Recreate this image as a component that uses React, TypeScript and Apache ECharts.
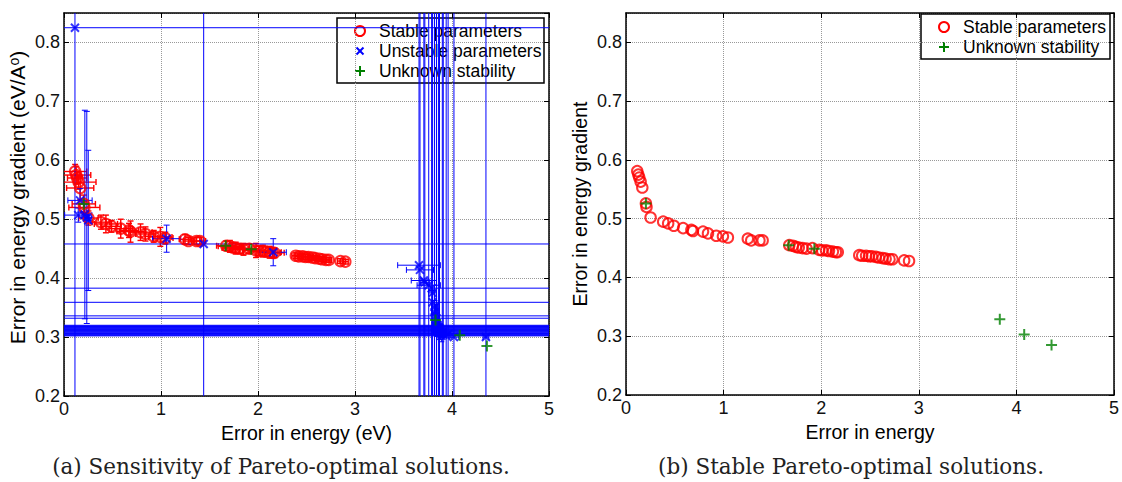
import { useEffect, useRef } from 'react';
import * as echarts from 'echarts';

// Pareto-optimal parameter sets: error in energy vs error in energy gradient
const stableX = [0.115, 0.126, 0.136, 0.15, 0.167, 0.204, 0.21, 0.252, 0.381, 0.432, 0.49, 0.585, 0.67, 0.686, 0.789, 0.84, 0.925, 0.993, 1.044, 1.248, 1.283, 1.367, 1.4, 1.673, 1.71, 1.74, 1.77, 1.81, 1.85, 1.91, 1.98, 2.01, 2.05, 2.08, 2.12, 2.15, 2.17, 2.39, 2.42, 2.46, 2.49, 2.52, 2.56, 2.59, 2.63, 2.66, 2.7, 2.73, 2.85, 2.9];
const stableY = [0.581, 0.575, 0.57, 0.563, 0.553, 0.526, 0.52, 0.502, 0.495, 0.492, 0.488, 0.484, 0.481, 0.479, 0.478, 0.475, 0.471, 0.47, 0.468, 0.466, 0.463, 0.463, 0.463, 0.455, 0.454, 0.452, 0.451, 0.45, 0.449, 0.45, 0.447, 0.446, 0.446, 0.445, 0.444, 0.443, 0.443, 0.438, 0.437, 0.437, 0.436, 0.436, 0.435, 0.434, 0.433, 0.432, 0.431, 0.431, 0.429, 0.428];
const stableXErr = [0.12, 0.15, 0.1, 0.18, 0.14, 0.12, 0.16, 0.1, 0.09, 0.12, 0.1, 0.12, 0.1, 0.14, 0.12, 0.1, 0.09, 0.12, 0.08, 0.06, 0.05, 0.05, 0.06, 0.1, 0.12, 0.1, 0.14, 0.1, 0.12, 0.1, 0.14, 0.1, 0.12, 0.1, 0.12, 0.08, 0.1, 0.04, 0.04, 0.05, 0.04, 0.05, 0.04, 0.04, 0.04, 0.04, 0.04, 0.03, 0.03, 0.03];
const stableYErr = [0.012, 0.015, 0.01, 0.012, 0.02, 0.015, 0.01, 0.012, 0.012, 0.015, 0.01, 0.016, 0.012, 0.018, 0.014, 0.012, 0.01, 0.016, 0.01, 0.008, 0.006, 0.006, 0.006, 0.008, 0.01, 0.008, 0.01, 0.008, 0.01, 0.008, 0.012, 0.008, 0.01, 0.008, 0.01, 0.008, 0.008, 0.005, 0.004, 0.005, 0.004, 0.005, 0.004, 0.004, 0.004, 0.004, 0.004, 0.004, 0.004, 0.004];

const unstableX = [0.113, 0.165, 0.147, 0.215, 0.235, 0.25, 1.058, 1.44, 2.157, 3.66, 3.67, 3.71, 3.72, 3.76, 3.79, 3.8, 3.8, 3.82, 3.82, 3.83, 3.84, 3.85, 3.86, 3.84, 3.85, 3.87, 3.88, 3.91, 3.94, 3.96, 4.02, 4.35, 3.83, 3.84, 3.86, 3.87, 3.85, 3.86, 3.88, 3.9, 3.89];
const unstableY = [0.825, 0.532, 0.507, 0.508, 0.503, 0.498, 0.467, 0.458, 0.444, 0.422, 0.414, 0.396, 0.393, 0.388, 0.383, 0.375, 0.359, 0.351, 0.342, 0.336, 0.332, 0.32, 0.317, 0.314, 0.311, 0.309, 0.306, 0.304, 0.303, 0.305, 0.3, 0.3, 0.319, 0.318, 0.316, 0.315, 0.313, 0.312, 0.31, 0.308, 0.302];
const unstableXErr = [9, 0.125, 0.14, 0.03, 0.03, 0.03, 0.145, 9, 0.135, 0.22, 0.14, 0.13, 0.05, 0.12, 9, 0.04, 9, 0.03, 0.03, 9, 9, 9, 9, 9, 9, 9, 9, 9, 9, 9, 0.05, 0.03, 9, 9, 9, 9, 9, 9, 9, 9, 9];
const unstableYErr = [9, 0.02, 0.012, 0.177, 0.18, 0.119, 0.023, 9, 0.023, 9, 9, 9, 9, 9, 9, 9, 0.02, 9, 0.02, 0.02, 9, 0.01, 9, 0.01, 0.01, 9, 0.01, 9, 9, 9, 9, 9, 0.01, 0.01, 0.01, 9, 0.01, 0.01, 0.01, 9, 0.01];

const unknownX = [0.204, 1.667, 1.93, 3.83, 4.08, 4.36];
const unknownY = [0.526, 0.455, 0.449, 0.329, 0.303, 0.285];

const xRange = [0, 5];
const yRange = [0.2, 0.85];
const legendLabels = ['Stable parameters', 'Unstable parameters', 'Unknown stability'];
const xTitles = ['Error in energy (eV)', 'Error in energy'];
const yTitles = ['{n|Error in energy gradient (eV/A}{s|o}{n|)}', 'Error in energy gradient'];
const captions = ['(a) Sensitivity of Pareto-optimal solutions.', '(b) Stable Pareto-optimal solutions.'];

const SANS = "'Liberation Sans', Arial, Helvetica, sans-serif";
const SERIF = "'DejaVu Serif', 'Liberation Serif', serif";
const RED = '#ff0000';
const BLUE = '#0000ff';
const GREEN = '#008000';
const TICK_SIZE = 18;

const CROSS = 'path://M0,0L10,10M10,0L0,10';
const PLUS = 'path://M5,0L5,10M0,5L10,5';

function errorBars(color: string, lw: number) {
  return (params: any, api: any) => {
    const cs = params.coordSys;
    const x0 = cs.x, x1 = cs.x + cs.width, y0 = cs.y, y1 = cs.y + cs.height;
    const vx = api.value(0), vy = api.value(1), ex = api.value(2), ey = api.value(3);
    const c = api.coord([vx, vy]);
    const l = api.coord([vx - ex, vy])[0];
    const r = api.coord([vx + ex, vy])[0];
    const t = api.coord([vx, vy + ey])[1];
    const b = api.coord([vx, vy - ey])[1];
    const cap = 3;
    const style = { stroke: color, lineWidth: lw };
    const kids: any[] = [];
    const seg = (a: number, b2: number, c2: number, d: number) =>
      kids.push({ type: 'line', shape: { x1: a, y1: b2, x2: c2, y2: d }, style });
    seg(Math.max(l, x0), c[1], Math.min(r, x1), c[1]);
    seg(c[0], Math.max(t, y0), c[0], Math.min(b, y1));
    if (l >= x0) seg(l, c[1] - cap, l, c[1] + cap);
    if (r <= x1) seg(r, c[1] - cap, r, c[1] + cap);
    if (t >= y0) seg(c[0] - cap, t, c[0] + cap, t);
    if (b <= y1) seg(c[0] - cap, b, c[0] + cap, b);
    return { type: 'group', children: kids };
  };
}

const axisLine = { show: true, onZero: false, lineStyle: { color: '#000', width: 1.5 } };
const axisTick = { show: true, inside: true, length: 5, lineStyle: { color: '#000', width: 1 } };
const splitLine = { show: true, lineStyle: { color: '#999', type: 'dotted', width: 1 } };

function mainX(gridIndex: number, name: string) {
  return {
    type: 'value', gridIndex, min: xRange[0], max: xRange[1], interval: 1, position: 'bottom',
    name, nameLocation: 'middle', nameGap: 22,
    nameTextStyle: { fontFamily: SANS, fontSize: 19.5, color: '#000' },
    axisLine, axisTick, splitLine,
    axisLabel: { fontFamily: SANS, fontSize: TICK_SIZE, color: '#111', margin: 4 },
  };
}
function sideX(gridIndex: number) {
  return {
    type: 'value', gridIndex, min: xRange[0], max: xRange[1], interval: 1, position: 'top',
    axisLine, axisTick, axisLabel: { show: false }, splitLine: { show: false },
  };
}
function mainY(gridIndex: number, name: string, size: number, shift: number) {
  return {
    type: 'value', gridIndex, min: yRange[0], max: yRange[1], interval: 0.1, position: 'left',
    name, nameLocation: 'middle', nameGap: 36,
    nameTextStyle: {
      fontFamily: SANS, fontSize: size, color: '#000',
      padding: [0, 0, 0, shift],
      rich: {
        n: { fontFamily: SANS, fontSize: size, color: '#000' },
        s: { fontFamily: SANS, fontSize: 14, color: '#000', verticalAlign: 'top' },
      },
    },
    axisLine, axisTick, splitLine,
    axisLabel: {
      fontFamily: SANS, fontSize: TICK_SIZE, color: '#111', margin: 4, showMaxLabel: false,
      formatter: (v: number) => (Math.abs(v * 10 - Math.round(v * 10)) < 1e-6 ? v.toFixed(1) : ''),
    },
  };
}
function sideY(gridIndex: number) {
  return {
    type: 'value', gridIndex, min: yRange[0], max: yRange[1], interval: 0.1, position: 'right',
    axisLine, axisTick, axisLabel: { show: false }, splitLine: { show: false },
  };
}

const circleStyle = { color: 'rgba(0,0,0,0)', borderColor: RED, borderWidth: 2 };
const crossStyle = { color: 'rgba(0,0,0,0)', borderColor: BLUE, borderWidth: 2 };
const plusStyle = { color: 'rgba(0,0,0,0)', borderColor: GREEN, borderWidth: 2 };

function pairs(xs: number[], ys: number[]) {
  return xs.map((x, i) => [x, ys[i]]);
}

function legendBox(x: number, y: number, w: number, h: number, rows: number[]) {
  const rowGap = 20;
  const kids: any[] = [
    { type: 'rect', shape: { x, y, width: w, height: h }, style: { fill: '#fff', stroke: '#000', lineWidth: 1.5 } },
  ];
  rows.forEach((kind, i) => {
    const cy = y + 13 + i * rowGap;
    const mx = x + 23;
    if (kind === 0) {
      kids.push({ type: 'circle', shape: { cx: mx, cy, r: 5 }, style: { fill: 'none', stroke: RED, lineWidth: 2 } });
    } else if (kind === 1) {
      kids.push({ type: 'line', shape: { x1: mx - 3.5, y1: cy - 3.5, x2: mx + 3.5, y2: cy + 3.5 }, style: { stroke: BLUE, lineWidth: 2 } });
      kids.push({ type: 'line', shape: { x1: mx - 3.5, y1: cy + 3.5, x2: mx + 3.5, y2: cy - 3.5 }, style: { stroke: BLUE, lineWidth: 2 } });
    } else {
      kids.push({ type: 'line', shape: { x1: mx - 5, y1: cy, x2: mx + 5, y2: cy }, style: { stroke: GREEN, lineWidth: 2 } });
      kids.push({ type: 'line', shape: { x1: mx, y1: cy - 5, x2: mx, y2: cy + 5 }, style: { stroke: GREEN, lineWidth: 2 } });
    }
    kids.push({
      type: 'text', x: x + 42, y: cy,
      style: { text: legendLabels[kind], fontFamily: SANS, fontSize: 17.5, fill: '#000', verticalAlign: 'middle', align: 'left' },
    });
  });
  return { type: 'group', z: 100, children: kids };
}

export default function App() {
  const ref = useRef<HTMLDivElement>(null);
  useEffect(() => {
    if (!ref.current) return;
    const chart = echarts.init(ref.current, undefined, { renderer: 'svg' });
    chart.setOption({
      animation: false,
      backgroundColor: '#fff',
      grid: [
        { left: 64, top: 13, width: 485, height: 383, containLabel: false },
        { left: 626, top: 13, width: 490, height: 382, containLabel: false },
      ],
      xAxis: [mainX(0, xTitles[0]), sideX(0), mainX(1, xTitles[1]), sideX(1)],
      yAxis: [mainY(0, yTitles[0], 21, 14), sideY(0), mainY(1, yTitles[1], 19.5, 0), sideY(1)],
      series: [
        {
          type: 'custom', name: 'stable-err', xAxisIndex: 0, yAxisIndex: 0, silent: true,
          renderItem: errorBars(RED, 1.4), encode: { x: 0, y: 1 },
          data: stableX.map((x, i) => [x, stableY[i], stableXErr[i], stableYErr[i]]),
        },
        {
          type: 'scatter', name: legendLabels[0], xAxisIndex: 0, yAxisIndex: 0, silent: true,
          symbol: 'circle', symbolSize: 10.5, itemStyle: circleStyle, data: pairs(stableX, stableY),
        },
        {
          type: 'custom', name: 'unstable-err', xAxisIndex: 0, yAxisIndex: 0, silent: true,
          renderItem: errorBars(BLUE, 1), encode: { x: 0, y: 1 },
          data: unstableX.map((x, i) => [x, unstableY[i], unstableXErr[i], unstableYErr[i]]),
        },
        {
          type: 'scatter', name: legendLabels[1], xAxisIndex: 0, yAxisIndex: 0, silent: true,
          symbol: CROSS, symbolSize: 8, itemStyle: crossStyle, data: pairs(unstableX, unstableY),
        },
        {
          type: 'scatter', name: legendLabels[2], xAxisIndex: 0, yAxisIndex: 0, silent: true,
          symbol: PLUS, symbolSize: 11, itemStyle: plusStyle, data: pairs(unknownX, unknownY),
        },
        {
          type: 'scatter', name: legendLabels[0] + ' (b)', xAxisIndex: 2, yAxisIndex: 2, silent: true,
          symbol: 'circle', symbolSize: 10.5, itemStyle: circleStyle, data: pairs(stableX, stableY),
        },
        {
          type: 'scatter', name: legendLabels[2] + ' (b)', xAxisIndex: 2, yAxisIndex: 2, silent: true,
          symbol: PLUS, symbolSize: 11, itemStyle: plusStyle, data: pairs(unknownX, unknownY),
        },
      ],
      graphic: [
        legendBox(337, 18, 207, 65, [0, 1, 2]),
        legendBox(921, 14, 189, 45, [0, 2]),
        {
          type: 'text', x: 281, y: 466, z: 100,
          style: { text: captions[0], fontFamily: SERIF, fontSize: 21.5, fill: '#222', align: 'center', verticalAlign: 'middle' },
        },
        {
          type: 'text', x: 851, y: 466, z: 100,
          style: { text: captions[1], fontFamily: SERIF, fontSize: 21.5, fill: '#222', align: 'center', verticalAlign: 'middle' },
        },
      ],
    });
    return () => chart.dispose();
  }, []);
  return (
    <div
      ref={ref}
      style={{ position: 'fixed', left: 0, top: 0, width: 1122, height: 482, background: '#fff' }}
    />
  );
}
